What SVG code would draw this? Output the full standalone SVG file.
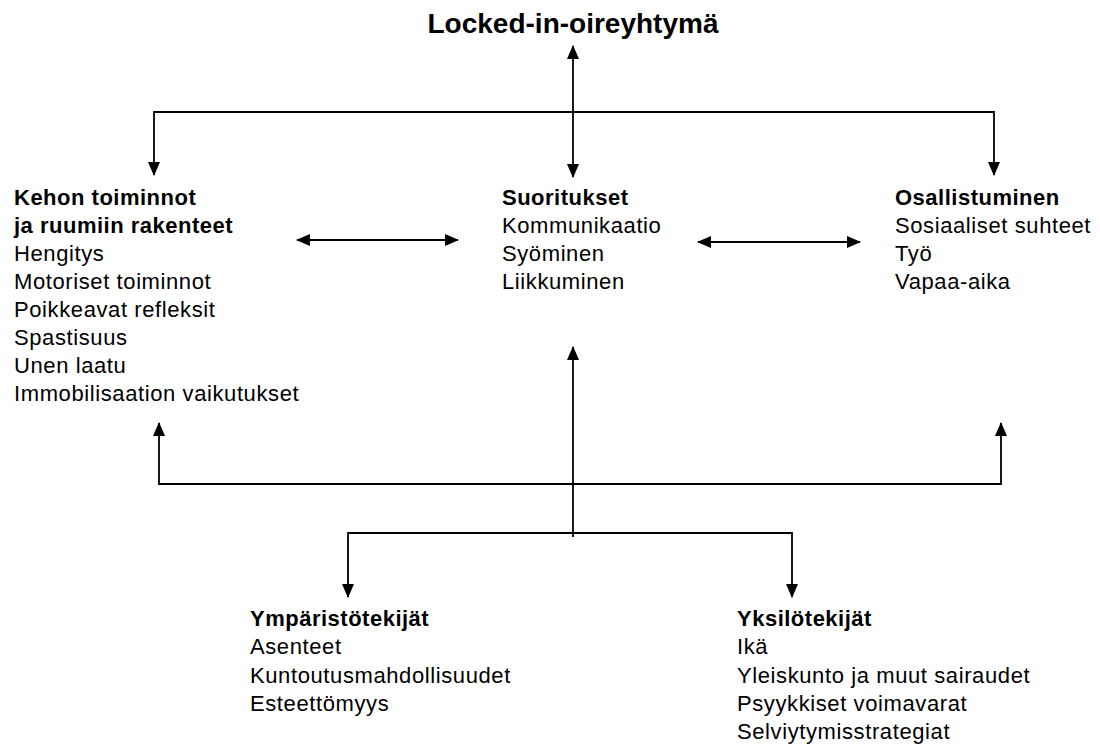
<svg xmlns="http://www.w3.org/2000/svg" width="1100" height="746" viewBox="0 0 1100 746">
<defs>
<style>
text{font-family:"Liberation Sans",Arial,sans-serif;fill:#000}
.t{font-size:28px;font-weight:bold}
.h{font-size:22px;font-weight:bold;letter-spacing:0.5px}
.i{font-size:22px;letter-spacing:0.6px}
.c{fill:none;stroke:#000;stroke-width:1.8}
</style>
<marker id="ah" markerUnits="userSpaceOnUse" markerWidth="14" markerHeight="12" refX="13" refY="6" orient="auto-start-reverse">
<path d="M0,0 L14,6 L0,12 Z" fill="#000"/>
</marker>
</defs>
<g id="title"><text class="t" x="573" y="33" text-anchor="middle">Locked-in-oireyhtymä</text></g>
<g id="connectors">
<line class="c" x1="573" y1="46" x2="573" y2="177" marker-start="url(#ah)" marker-end="url(#ah)"/>
<polyline class="c" points="154,175 154,112 994,112 994,175" marker-start="url(#ah)" marker-end="url(#ah)"/>
<line class="c" x1="297" y1="240" x2="458" y2="240" marker-start="url(#ah)" marker-end="url(#ah)"/>
<line class="c" x1="698" y1="242" x2="860" y2="242" marker-start="url(#ah)" marker-end="url(#ah)"/>
<line class="c" x1="573" y1="537" x2="573" y2="347" marker-end="url(#ah)"/>
<polyline class="c" points="159,423 159,484 1001,484 1001,423" marker-start="url(#ah)" marker-end="url(#ah)"/>
<polyline class="c" points="348,597 348,533 792,533 792,597" marker-start="url(#ah)" marker-end="url(#ah)"/>
</g>
<g id="kehon">
<text class="h" x="14" y="205">Kehon toiminnot</text>
<text class="h" x="14" y="233">ja ruumiin rakenteet</text>
<text class="i" x="14" y="261">Hengitys</text>
<text class="i" x="14" y="289">Motoriset toiminnot</text>
<text class="i" x="14" y="317">Poikkeavat refleksit</text>
<text class="i" x="14" y="345">Spastisuus</text>
<text class="i" x="14" y="373">Unen laatu</text>
<text class="i" x="14" y="401">Immobilisaation vaikutukset</text>
</g>
<g id="suoritukset">
<text class="h" x="502" y="205">Suoritukset</text>
<text class="i" x="502" y="233">Kommunikaatio</text>
<text class="i" x="502" y="261">Syöminen</text>
<text class="i" x="502" y="289">Liikkuminen</text>
</g>
<g id="osallistuminen">
<text class="h" x="895" y="205">Osallistuminen</text>
<text class="i" x="895" y="233">Sosiaaliset suhteet</text>
<text class="i" x="895" y="261">Työ</text>
<text class="i" x="895" y="289">Vapaa-aika</text>
</g>
<g id="ymparisto">
<text class="h" x="250" y="626">Ympäristötekijät</text>
<text class="i" x="250" y="654">Asenteet</text>
<text class="i" x="250" y="683">Kuntoutusmahdollisuudet</text>
<text class="i" x="250" y="711">Esteettömyys</text>
</g>
<g id="yksilo">
<text class="h" x="737" y="626">Yksilötekijät</text>
<text class="i" x="737" y="654">Ikä</text>
<text class="i" x="737" y="683">Yleiskunto ja muut sairaudet</text>
<text class="i" x="737" y="711">Psyykkiset voimavarat</text>
<text class="i" x="737" y="739">Selviytymisstrategiat</text>
</g>
</svg>
